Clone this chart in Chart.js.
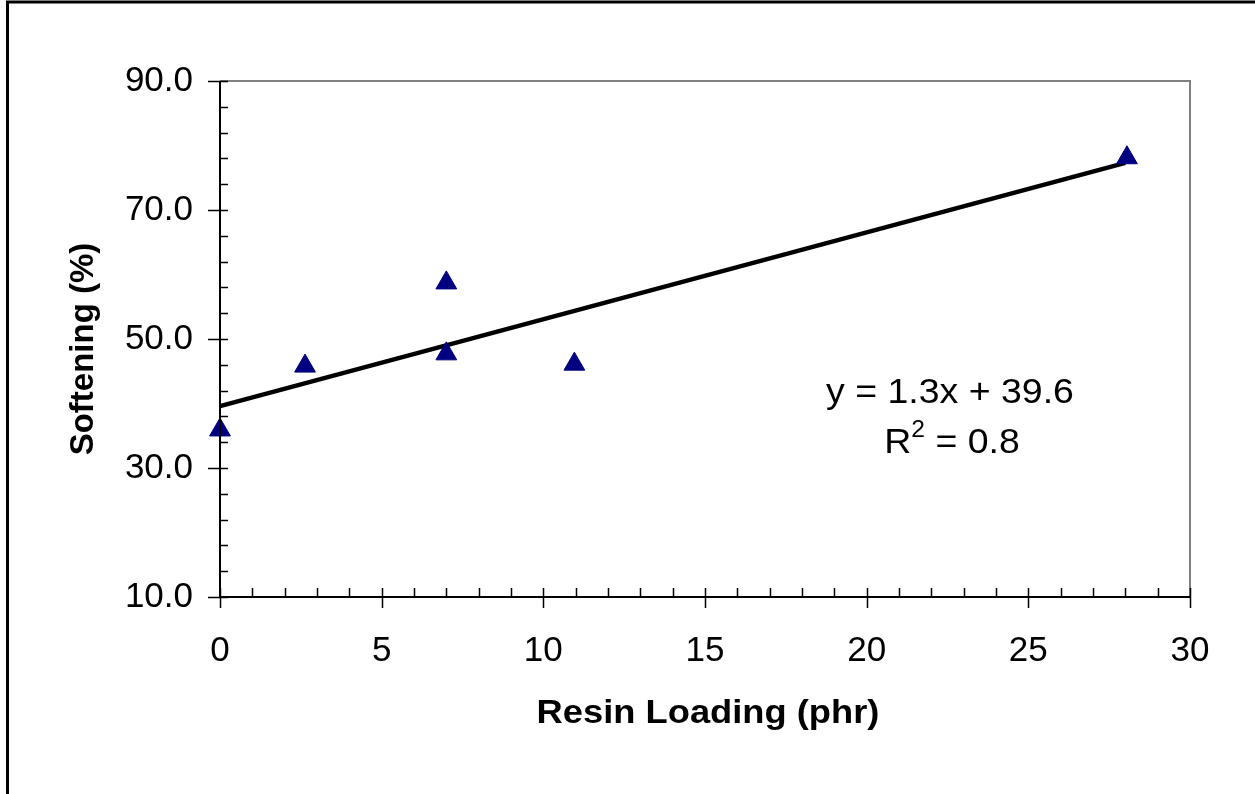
<!DOCTYPE html>
<html>
<head>
<meta charset="utf-8">
<script src="https://cdn.jsdelivr.net/npm/chart.js@4"></script>
<style>
  html, body { margin: 0; padding: 0; background: #fff; }
  #wrap { width: 1255px; height: 794px; position: relative; }
</style>
</head>
<body>
<div id="wrap"><canvas id="chart" width="1255" height="794"></canvas></div>
<script>
// données
const resinLoading = [0, 2.63, 7.0, 7.0, 10.96, 28.05];
const softening = [35.9, 45.8, 58.7, 47.7, 46.1, 78.1];
const trendX = [0, 28];
const trendY = [39.6, 77.3];
const equationText = 'y = 1.3x + 39.6';
const r2Text = '0.8';
const xTitle = 'Resin Loading (phr)';
const yTitle = 'Softening (%)';
const yTicks = [10, 30, 50, 70, 90];
const xTicks = [0, 5, 10, 15, 20, 25, 30];

const FONT = '"Liberation Sans", Arial, sans-serif';

// texte légèrement étiré horizontalement comme dans l'original
function stretchedText(ctx, text, x, y, sx) {
    ctx.save();
    ctx.translate(x, y);
    ctx.scale(sx, 1);
    ctx.fillText(text, 0, 0);
    ctx.restore();
}

// ticks, bordures, titres et équation dessinés par-dessus
const decorPlugin = {
    id: 'decor',
    afterDraw(chart) {
        const ctx = chart.ctx;
        const xs = chart.scales.x;
        const ys = chart.scales.y;
        const a = chart.chartArea;
        ctx.save();

        // cadre extérieur
        ctx.strokeStyle = '#000';
        ctx.lineWidth = 3;
        ctx.beginPath();
        ctx.moveTo(7.5, 800);
        ctx.lineTo(7.5, 2);
        ctx.lineTo(1260, 2);
        ctx.stroke();

        // bordure haut / droite en gris
        ctx.strokeStyle = '#808080';
        ctx.lineWidth = 2;
        ctx.beginPath();
        ctx.moveTo(a.left, a.top);
        ctx.lineTo(a.right, a.top);
        ctx.lineTo(a.right, a.bottom);
        ctx.stroke();

        // axes
        ctx.strokeStyle = '#000';
        ctx.lineWidth = 2;
        ctx.beginPath();
        ctx.moveTo(a.left, a.top);
        ctx.lineTo(a.left, a.bottom);
        ctx.lineTo(a.right, a.bottom);
        ctx.stroke();

        ctx.lineWidth = 1.5;
        ctx.beginPath();
        // ticks Y
        for (let v = 10; v <= 90; v += 4) {
            const py = Math.round(ys.getPixelForValue(v)) + 0.5;
            if (yTicks.includes(v)) {
                ctx.moveTo(a.left - 12, py);
                ctx.lineTo(a.left + 8, py);
            } else {
                ctx.moveTo(a.left, py);
                ctx.lineTo(a.left + 8, py);
            }
        }
        // ticks X
        for (let v = 0; v <= 30; v += 1) {
            const px = Math.round(xs.getPixelForValue(v)) + 0.5;
            if (xTicks.includes(v)) {
                ctx.moveTo(px, a.bottom - 9);
                ctx.lineTo(px, a.bottom + 11);
            } else {
                ctx.moveTo(px, a.bottom - 9);
                ctx.lineTo(px, a.bottom);
            }
        }
        ctx.stroke();

        // titres des axes
        ctx.fillStyle = '#000';
        ctx.textBaseline = 'alphabetic';
        ctx.textAlign = 'center';
        ctx.font = 'bold 33px ' + FONT;
        stretchedText(ctx, xTitle, 708, 723, 1.1);

        ctx.save();
        ctx.translate(93, 349);
        ctx.rotate(-Math.PI / 2);
        ctx.fillText(yTitle, 0, 0);
        ctx.restore();

        // équation de la tendance
        ctx.font = '35px ' + FONT;
        stretchedText(ctx, equationText, 950, 403, 1.07);

        const rMain = 'R';
        const rRest = ' = ' + r2Text;
        const k = 1.07;
        const wR = ctx.measureText(rMain).width * k;
        const wRest = ctx.measureText(rRest).width * k;
        ctx.font = '23px ' + FONT;
        const wSup = ctx.measureText('2').width * k;
        const sx = 952 - (wR + wSup + wRest) / 2;
        ctx.textAlign = 'left';
        ctx.font = '35px ' + FONT;
        stretchedText(ctx, rMain, sx, 453, k);
        ctx.font = '23px ' + FONT;
        stretchedText(ctx, '2', sx + wR, 437, k);
        ctx.font = '35px ' + FONT;
        stretchedText(ctx, rRest, sx + wR + wSup, 453, k);

        ctx.restore();
    }
};

const ctx = document.getElementById('chart').getContext('2d');
new Chart(ctx, {
    type: 'scatter',
    data: {
        datasets: [{
            label: 'Trend',
            type: 'line',
            data: trendX.map((x, i) => ({ x: x, y: trendY[i] })),
            borderColor: '#000',
            borderWidth: 4.5,
            pointRadius: 0,
            fill: false,
            clip: false,
            order: 2
        }, {
            label: 'Softening',
            data: resinLoading.map((x, i) => ({ x: x, y: softening[i] })),
            pointStyle: 'triangle',
            pointRadius: 12,
            backgroundColor: '#000080',
            borderColor: '#000080',
            borderWidth: 1,
            clip: false,
            order: 1
        }]
    },
    options: {
        responsive: false,
        animation: false,
        devicePixelRatio: 1,
        layout: { padding: { left: 0, top: 81, right: 65, bottom: 0 } },
        plugins: {
            legend: { display: false },
            tooltip: { enabled: false }
        },
        scales: {
            x: {
                type: 'linear',
                min: 0,
                max: 30,
                afterFit: (s) => { s.height = 197; },
                afterBuildTicks: (s) => { s.ticks = xTicks.map(v => ({ value: v })); },
                grid: { display: true, drawOnChartArea: false, drawTicks: false },
                border: { display: false },
                ticks: {
                    color: '#000',
                    padding: 33,
                    maxRotation: 0,
                    font: { family: FONT, size: 35 }
                }
            },
            y: {
                type: 'linear',
                min: 10,
                max: 90,
                afterFit: (s) => { s.width = 220; },
                afterBuildTicks: (s) => { s.ticks = yTicks.map(v => ({ value: v })); },
                grid: { display: true, drawOnChartArea: false, drawTicks: false },
                border: { display: false },
                ticks: {
                    color: '#000',
                    padding: 27,
                    callback: (v) => v.toFixed(1),
                    font: { family: FONT, size: 35 }
                }
            }
        }
    },
    plugins: [decorPlugin]
});
</script>
</body>
</html>
